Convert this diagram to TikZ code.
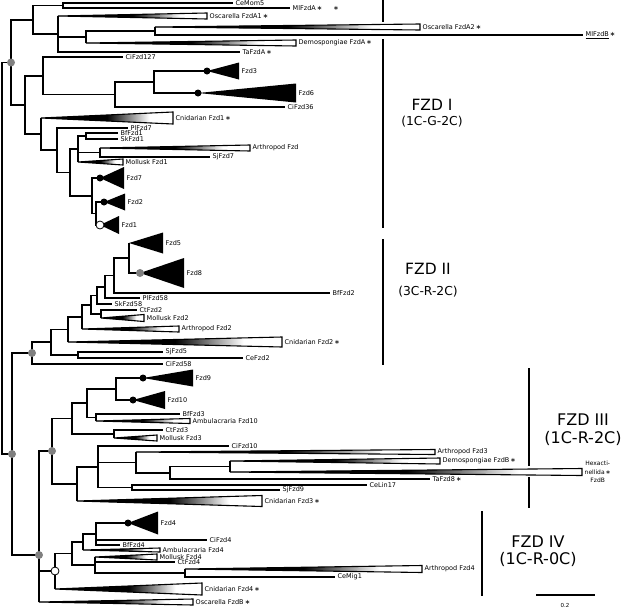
\documentclass[tikz,border=0pt]{standalone}
\usepackage{fontspec}
\setmainfont{DejaVu Sans}
\pgfdeclarehorizontalshading{fadebw}{100bp}{color(0bp)=(black); color(50bp)=(black); color(66bp)=(white); color(100bp)=(white)}
\begin{document}
\begin{tikzpicture}[x=1pt,y=-1pt]
  \tikzstyle{leaf}=[anchor=west,inner sep=2.5pt,font=\fontsize{6.5}{7}\selectfont]
  \tikzstyle{edge}=[draw,line width=1.5pt]
  \tikzstyle{fade}=[shading=fadebw,draw=black,line width=1.1pt]
  \tikzstyle{clade}=[fill=black]
  \tikzstyle{gdot}=[circle,fill=black!50,inner sep=0pt,minimum size=8pt]
  \tikzstyle{bdot}=[circle,fill=black,inner sep=0pt,minimum size=7pt]
  \tikzstyle{wdot}=[circle,draw=black,fill=white,line width=0.8pt,inner sep=0pt,minimum size=8pt]
  \tikzstyle{bar}=[draw,line width=1.6pt]
  \tikzstyle{group}=[font=\fontsize{15.5}{18}\selectfont]
  \tikzstyle{motif}=[font=\fontsize{12.3}{14}\selectfont]
  \tikzstyle{bgroup}=[font=\fontsize{16}{18}\selectfont]
  \useasboundingbox (0,0) rectangle (623,608);

  % backbone
  \coordinate (root) at (2,258);
  \coordinate (ca) at (11,62.5);
  \coordinate (cb) at (12,454);
  \path[edge] (root) |- (ca);
  \path[edge] (root) |- (cb);

  % sponge / placozoan / ctenophore group
  \coordinate (n1) at (33,20);
  \coordinate (n1a) at (63,5.5);
  \coordinate (n1b) at (58,34);
  \coordinate (n1c) at (86,37);
  \coordinate (n1d) at (155,31);
  \node[leaf] (cemom5) at (233,3) {CeMom5};
  \node[leaf] (mlfzda) at (290,8) {MlFzdA\,∗\hspace{11pt}∗};
  \node[leaf] (oscfzda1) at (207,16) {Oscarella FzdA1\,∗};
  \node[leaf] (oscfzda2) at (420,27) {Oscarella FzdA2\,∗};
  \node[leaf] (mlfzdb) at (583,35) {\underline{MlFzdB}\,∗};
  \node[leaf] (demfzda) at (296,43) {Demospongiae FzdA\,∗};
  \node[leaf] (tafzda) at (240,52) {TaFzdA\,∗};
  \path[edge] (ca) |- (n1);
  \path[edge] (n1) |- (n1a);
  \path[edge] (n1) |- (n1b);
  \path[edge] (n1a) |- (cemom5.west);
  \path[edge] (n1a) |- (mlfzda.west);
  \path[edge] (n1b) -- (n1b |- oscfzda1.west);
  \path[edge] (n1b) |- (n1c);
  \path[edge] (n1b) |- (tafzda.west);
  \path[edge] (n1c) |- (n1d);
  \path[edge] (n1c) -- (n1c |- demfzda.west);
  \path[edge] (n1d) -- (n1d |- oscfzda2.west);
  \path[edge] (n1d) |- (mlfzdb.west);
  \shadedraw[fade] (n1b |- oscfzda1.west) -- ([yshift=3pt]oscfzda1.west) -- ([yshift=-3pt]oscfzda1.west) -- cycle;
  \shadedraw[fade] (n1d |- oscfzda2.west) -- ([yshift=3pt]oscfzda2.west) -- ([yshift=-3pt]oscfzda2.west) -- cycle;
  \shadedraw[fade] (n1c |- demfzda.west) -- ([yshift=3pt]demfzda.west) -- ([yshift=-3pt]demfzda.west) -- cycle;

  % FZD I
  \coordinate (n2) at (25,105);
  \coordinate (n2a) at (43,76);
  \coordinate (n2c) at (115,94.5);
  \coordinate (n2d) at (154,82);
  \coordinate (n2b) at (41,134);
  \coordinate (n2e) at (57,150);
  \coordinate (n2f) at (70,172.5);
  \coordinate (n2g) at (78,149);
  \coordinate (n2i) at (86,136);
  \coordinate (n2j) at (100,152.5);
  \coordinate (n2h) at (92,196);
  \coordinate (n2k) at (96,213.5);
  \coordinate (fzd3c) at (207,71);
  \coordinate (fzd6c) at (198,93);
  \coordinate (fzd7c) at (100,178);
  \coordinate (fzd2c) at (104,202);
  \coordinate (fzd1c) at (100,225);
  \node[leaf] (cifzd127) at (123,57) {CiFzd127};
  \node[leaf] (fzd3) at (239,71) {Fzd3};
  \node[leaf] (fzd6) at (296,93) {Fzd6};
  \node[leaf] (cifzd36) at (285,107) {CiFzd36};
  \node[leaf] (cnifzd1) at (173,118) {Cnidarian Fzd1\,∗};
  \node[leaf] (plfzd7) at (128,128) {PlFzd7};
  \node[leaf] (bffzd1) at (118,133) {BfFzd1};
  \node[leaf] (skfzd1) at (118,139) {SkFzd1};
  \node[leaf] (arthfzd) at (250,148) {Arthropod Fzd};
  \node[leaf] (sjfzd7) at (210,157) {SjFzd7};
  \node[leaf] (molfzd1) at (123,162) {Mollusk Fzd1};
  \node[leaf] (fzd7) at (124,178) {Fzd7};
  \node[leaf] (fzd2) at (125,202) {Fzd2};
  \node[leaf] (fzd1) at (119,225) {Fzd1};
  \path[edge] (ca) |- (n2);
  \path[edge] (n2) |- (n2a);
  \path[edge] (n2) |- (n2b);
  \path[edge] (n2a) |- (cifzd127.west);
  \path[edge] (n2a) |- (n2c);
  \path[edge] (n2c) |- (n2d);
  \path[edge] (n2c) |- (cifzd36.west);
  \path[edge] (n2d) |- (fzd3c);
  \path[edge] (n2d) |- (fzd6c);
  \path[edge] (n2b) -- (n2b |- cnifzd1.west);
  \path[edge] (n2b) |- (n2e);
  \path[edge] (n2e) |- (plfzd7.west);
  \path[edge] (n2e) |- (n2f);
  \path[edge] (n2f) |- (n2g);
  \path[edge] (n2f) |- (n2h);
  \path[edge] (n2g) |- (n2i);
  \path[edge] (n2g) |- (n2j);
  \path[edge] (n2g) -- (n2g |- molfzd1.west);
  \path[edge] (n2i) |- (bffzd1.west);
  \path[edge] (n2i) |- (skfzd1.west);
  \path[edge] (n2j) -- (n2j |- arthfzd.west);
  \path[edge] (n2j) |- (sjfzd7.west);
  \path[edge] (n2h) |- (fzd7c);
  \path[edge] (n2h) |- (n2k);
  \path[edge] (n2k) |- (fzd2c);
  \path[edge] (n2k) |- (fzd1c);
  \shadedraw[fade] (n2b |- cnifzd1.west) -- ([yshift=6pt]cnifzd1.west) -- ([yshift=-6pt]cnifzd1.west) -- cycle;
  \shadedraw[fade] (n2j |- arthfzd.west) -- ([yshift=3pt]arthfzd.west) -- ([yshift=-3pt]arthfzd.west) -- cycle;
  \shadedraw[fade] (n2g |- molfzd1.west) -- ([yshift=3pt]molfzd1.west) -- ([yshift=-3pt]molfzd1.west) -- cycle;
  \fill[clade] (fzd3c) -- ([yshift=8.5pt]fzd3.west) -- ([yshift=-8.5pt]fzd3.west) -- cycle;
  \fill[clade] (fzd6c) -- ([yshift=9.5pt]fzd6.west) -- ([yshift=-9.5pt]fzd6.west) -- cycle;
  \fill[clade] (fzd7c) -- ([yshift=11pt]fzd7.west) -- ([yshift=-11pt]fzd7.west) -- cycle;
  \fill[clade] (fzd2c) -- ([yshift=8.5pt]fzd2.west) -- ([yshift=-8.5pt]fzd2.west) -- cycle;
  \fill[clade] (fzd1c) -- ([yshift=9pt]fzd1.west) -- ([yshift=-9pt]fzd1.west) -- cycle;

  % FZD II
  \coordinate (p2) at (32,353);
  \coordinate (q) at (51,342);
  \coordinate (r) at (68,329.5);
  \coordinate (s) at (82,317);
  \coordinate (t) at (91,305);
  \coordinate (u) at (97,295.5);
  \coordinate (v) at (105,287);
  \coordinate (w) at (114,275.5);
  \coordinate (xx) at (129,258);
  \coordinate (sjce) at (78,355);
  \coordinate (molct) at (101,314);
  \coordinate (fzd8c) at (140,273);
  \node[leaf] (fzd5) at (163,243) {Fzd5};
  \node[leaf] (fzd8) at (184,273) {Fzd8};
  \node[leaf] (bffzd2) at (330,293) {BfFzd2};
  \node[leaf] (plfzd58) at (140,298) {PlFzd58};
  \node[leaf] (skfzd58) at (112,304) {SkFzd58};
  \node[leaf] (ctfzd2) at (137,310) {CtFzd2};
  \node[leaf] (molfzd2) at (144,318) {Mollusk Fzd2};
  \node[leaf] (arthfzd2) at (179,329) {Arthropod Fzd2};
  \node[leaf] (cnifzd2) at (282,342) {Cnidarian Fzd2\,∗};
  \node[leaf] (sjfzd5) at (163,352) {SjFzd5};
  \node[leaf] (cefzd2) at (243,358) {CeFzd2};
  \node[leaf] (cifzd58) at (163,364) {CiFzd58};
  \path[edge] (cb) |- (p2);
  \path[edge] (p2) |- (q);
  \path[edge] (p2) |- (cifzd58.west);
  \path[edge] (q) |- (r);
  \path[edge] (q) |- (sjce);
  \path[edge] (r) |- (s);
  \path[edge] (r) -- (r |- cnifzd2.west);
  \path[edge] (s) |- (t);
  \path[edge] (s) -- (s |- arthfzd2.west);
  \path[edge] (t) |- (u);
  \path[edge] (t) |- (molct);
  \path[edge] (u) |- (v);
  \path[edge] (u) |- (skfzd58.west);
  \path[edge] (v) |- (w);
  \path[edge] (v) |- (plfzd58.west);
  \path[edge] (w) |- (xx);
  \path[edge] (w) |- (bffzd2.west);
  \path[edge] (xx) -- (xx |- fzd5.west);
  \path[edge] (xx) |- (fzd8c);
  \path[edge] (molct) |- (ctfzd2.west);
  \path[edge] (molct) -- (molct |- molfzd2.west);
  \path[edge] (sjce) |- (sjfzd5.west);
  \path[edge] (sjce) |- (cefzd2.west);
  \fill[clade] (xx |- fzd5.west) -- ([yshift=10.5pt]fzd5.west) -- ([yshift=-10.5pt]fzd5.west) -- cycle;
  \fill[clade] (fzd8c) -- ([yshift=15pt]fzd8.west) -- ([yshift=-15pt]fzd8.west) -- cycle;
  \shadedraw[fade] (molct |- molfzd2.west) -- ([yshift=3.5pt]molfzd2.west) -- ([yshift=-3.5pt]molfzd2.west) -- cycle;
  \shadedraw[fade] (s |- arthfzd2.west) -- ([yshift=3pt]arthfzd2.west) -- ([yshift=-3pt]arthfzd2.west) -- cycle;
  \shadedraw[fade] (r |- cnifzd2.west) -- ([yshift=5pt]cnifzd2.west) -- ([yshift=-5pt]cnifzd2.west) -- cycle;

  % FZD III
  \coordinate (cc) at (39,555);
  \coordinate (p3) at (52,451);
  \coordinate (m72) at (72,418.5);
  \coordinate (m87) at (87,403);
  \coordinate (m116) at (116,389);
  \coordinate (m96) at (96,417.5);
  \coordinate (m114) at (114,434);
  \coordinate (m77) at (77,484);
  \coordinate (m98) at (98,467);
  \coordinate (m136) at (136,462.5);
  \coordinate (my) at (170,473);
  \coordinate (mz) at (230,466.5);
  \coordinate (m132) at (132,487.5);
  \coordinate (fzd9c) at (143,378);
  \coordinate (fzd10c) at (133,400);
  \node[leaf] (fzd9) at (193,378) {Fzd9};
  \node[leaf] (fzd10) at (165,400) {Fzd10};
  \node[leaf] (bffzd3) at (180,414) {BfFzd3};
  \node[leaf] (ambfzd10) at (190,421) {Ambulacraria Fzd10};
  \node[leaf] (ctfzd3) at (163,430) {CtFzd3};
  \node[leaf] (molfzd3) at (157,438) {Mollusk Fzd3};
  \node[leaf] (cifzd10) at (229,446) {CiFzd10};
  \node[leaf] (arthfzd3) at (435,452) {Arthropod Fzd3};
  \node[leaf] (demfzdb) at (440,461) {Demospongiae FzdB\,∗};
  \node[leaf,align=center,font=\fontsize{6}{8.5}\selectfont] (hexfzdb) at (582,472) {Hexacti-\\nellida\,∗\\FzdB};
  \node[leaf] (tafzd8) at (430,479) {TaFzd8\,∗};
  \node[leaf] (celin17) at (367,485) {CeLin17};
  \node[leaf] (sjfzd9) at (280,490) {SjFzd9};
  \node[leaf] (cnifzd3) at (262,501) {Cnidarian Fzd3\,∗};
  \path[edge] (cb) |- (cc);
  \path[edge] (cc) |- (p3);
  \path[edge] (p3) |- (m72);
  \path[edge] (p3) |- (m77);
  \path[edge] (m72) |- (m87);
  \path[edge] (m72) |- (m114);
  \path[edge] (m87) |- (m116);
  \path[edge] (m87) |- (m96);
  \path[edge] (m116) |- (fzd9c);
  \path[edge] (m116) |- (fzd10c);
  \path[edge] (m96) |- (bffzd3.west);
  \path[edge] (m96) -- (m96 |- ambfzd10.west);
  \path[edge] (m114) |- (ctfzd3.west);
  \path[edge] (m114) -- (m114 |- molfzd3.west);
  \path[edge] (m77) |- (m98);
  \path[edge] (m77) -- (m77 |- cnifzd3.west);
  \path[edge] (m98) |- (cifzd10.west);
  \path[edge] (m98) |- (m136);
  \path[edge] (m98) |- (m132);
  \path[edge] (m136) -- (m136 |- arthfzd3.west);
  \path[edge] (m136) |- (my);
  \path[edge] (my) |- (mz);
  \path[edge] (my) |- (tafzd8.west);
  \path[edge] (mz) -- (mz |- demfzdb.west);
  \path[edge] (mz) -- (mz |- hexfzdb.west);
  \path[edge] (m132) |- (celin17.west);
  \path[edge] (m132) |- (sjfzd9.west);
  \fill[clade] (fzd9c) -- ([yshift=8.5pt]fzd9.west) -- ([yshift=-8.5pt]fzd9.west) -- cycle;
  \fill[clade] (fzd10c) -- ([yshift=9pt]fzd10.west) -- ([yshift=-9pt]fzd10.west) -- cycle;
  \shadedraw[fade] (m96 |- ambfzd10.west) -- ([yshift=2.5pt]ambfzd10.west) -- ([yshift=-2.5pt]ambfzd10.west) -- cycle;
  \shadedraw[fade] (m114 |- molfzd3.west) -- ([yshift=3pt]molfzd3.west) -- ([yshift=-3pt]molfzd3.west) -- cycle;
  \shadedraw[fade] (m136 |- arthfzd3.west) -- ([yshift=2.5pt]arthfzd3.west) -- ([yshift=-2.5pt]arthfzd3.west) -- cycle;
  \shadedraw[fade] (mz |- demfzdb.west) -- ([yshift=3pt]demfzdb.west) -- ([yshift=-3pt]demfzdb.west) -- cycle;
  \shadedraw[fade] (mz |- hexfzdb.west) -- ([yshift=3.5pt]hexfzdb.west) -- ([yshift=-3.5pt]hexfzdb.west) -- cycle;
  \shadedraw[fade] (m77 |- cnifzd3.west) -- ([yshift=5.5pt]cnifzd3.west) -- ([yshift=-5.5pt]cnifzd3.west) -- cycle;

  % FZD IV
  \coordinate (p4) at (55,571);
  \coordinate (k72) at (72,553.5);
  \coordinate (k83) at (83,542);
  \coordinate (k96) at (96,534);
  \coordinate (k95) at (95,565);
  \coordinate (k185) at (185,573);
  \coordinate (fzd4c) at (128,523);
  \node[leaf] (fzd4) at (158,523) {Fzd4};
  \node[leaf] (cifzd4) at (207,540) {CiFzd4};
  \node[leaf] (bffzd4) at (120,545) {BfFzd4};
  \node[leaf] (ambfzd4) at (160,550) {Ambulacraria Fzd4};
  \node[leaf] (molfzd4) at (157,557) {Mollusk Fzd4};
  \node[leaf] (ctfzd4) at (175,562) {CtFzd4};
  \node[leaf] (arthfzd4) at (422,569) {Arthropod Fzd4};
  \node[leaf] (cemig1) at (335,577) {CeMig1};
  \node[leaf] (cnifzd4) at (202,589) {Cnidarian Fzd4\,∗};
  \node[leaf] (oscfzdb) at (193,602) {Oscarella FzdB\,∗};
  \path[edge] (cc) |- (p4);
  \path[edge] (cc) -- (cc |- oscfzdb.west);
  \path[edge] (p4) |- (k72);
  \path[edge] (p4) -- (p4 |- cnifzd4.west);
  \path[edge] (k72) |- (k83);
  \path[edge] (k72) |- (k95);
  \path[edge] (k83) |- (k96);
  \path[edge] (k83) -- (k83 |- ambfzd4.west);
  \path[edge] (k96) |- (fzd4c);
  \path[edge] (k96) |- (cifzd4.west);
  \path[edge] (k96) |- (bffzd4.west);
  \path[edge] (k95) -- (k95 |- molfzd4.west);
  \path[edge] (k95) |- (ctfzd4.west);
  \path[edge] (k95) |- (k185);
  \path[edge] (k185) -- (k185 |- arthfzd4.west);
  \path[edge] (k185) |- (cemig1.west);
  \fill[clade] (fzd4c) -- ([yshift=11.5pt]fzd4.west) -- ([yshift=-11.5pt]fzd4.west) -- cycle;
  \shadedraw[fade] (k83 |- ambfzd4.west) -- ([yshift=2pt]ambfzd4.west) -- ([yshift=-2pt]ambfzd4.west) -- cycle;
  \shadedraw[fade] (k95 |- molfzd4.west) -- ([yshift=3pt]molfzd4.west) -- ([yshift=-3pt]molfzd4.west) -- cycle;
  \shadedraw[fade] (k185 |- arthfzd4.west) -- ([yshift=3.5pt]arthfzd4.west) -- ([yshift=-3.5pt]arthfzd4.west) -- cycle;
  \shadedraw[fade] (p4 |- cnifzd4.west) -- ([yshift=6pt]cnifzd4.west) -- ([yshift=-6pt]cnifzd4.west) -- cycle;
  \shadedraw[fade] (cc |- oscfzdb.west) -- ([yshift=3pt]oscfzdb.west) -- ([yshift=-3pt]oscfzdb.west) -- cycle;

  % node support dots
  \node[gdot] (gca) at (ca) {};
  \node[gdot] (gcb) at (cb) {};
  \node[gdot] (gp2) at (p2) {};
  \node[gdot] (gp3) at (p3) {};
  \node[gdot] (gcc) at (cc) {};
  \node[gdot] (g8) at (fzd8c) {};
  \node[wdot] (wp4) at (p4) {};
  \node[wdot] (w1) at (fzd1c) {};
  \node[bdot] (b3) at (fzd3c) {};
  \node[bdot] (b6) at (fzd6c) {};
  \node[bdot] (b7) at (fzd7c) {};
  \node[bdot] (b2) at (fzd2c) {};
  \node[bdot] (b9) at (fzd9c) {};
  \node[bdot] (b10) at (fzd10c) {};
  \node[bdot] (b4) at (fzd4c) {};

  % group bars and names
  \draw[bar] (383,0) -- (383,22);
  \draw[bar] (383,39) -- (383,228);
  \draw[bar] (383,239) -- (383,365);
  \draw[bar] (529,368) -- (529,466);
  \draw[bar] (529,477) -- (529,508);
  \draw[bar] (482,511) -- (482,596);
  \node[group] (fzdI) at (432,105) {FZD I};
  \node[motif] (motI) at (432,122) {(1C-G-2C)};
  \node[group] (fzdII) at (428,269) {FZD II};
  \node[motif] (motII) at (428,292) {(3C-R-2C)};
  \node[bgroup] (fzdIII) at (583,420) {FZD III};
  \node[bgroup] (motIII) at (583,438) {(1C-R-2C)};
  \node[bgroup] (fzdIV) at (538,542) {FZD IV};
  \node[bgroup] (motIV) at (538,559) {(1C-R-0C)};

  % scale
  \coordinate (sb1) at (536,595);
  \coordinate (sb2) at (595,595);
  \path[edge] (sb1) -- (sb2);
  \node[font=\fontsize{5.5}{6}\selectfont] (sblab) at (565,605) {0.2};
\end{tikzpicture}
\end{document}
